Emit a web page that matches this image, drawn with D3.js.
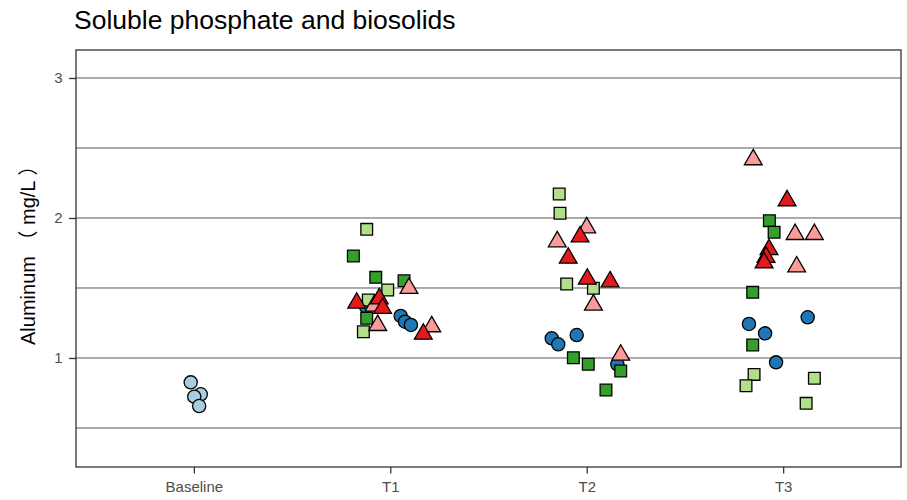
<!DOCTYPE html>
<html>
<head>
<meta charset="utf-8">
<script src="https://cdn.jsdelivr.net/npm/d3@7"></script>
<style>
  html, body { margin: 0; padding: 0; background: #ffffff; }
  svg { display: block; font-family: "Liberation Sans", Arial, "Noto Sans CJK SC", sans-serif; }
</style>
</head>
<body>
<svg id="chart" width="907" height="500"></svg>
<script>
// Sampling periods on the x axis
const categories = ["Baseline", "T1", "T2", "T3"];

// Baseline soil samples (mg/L) and their horizontal jitter (fraction of a category step)
const baselineValues = [0.826, 0.741, 0.724, 0.657];
const baselineJitter = [-0.016, 0.035, 0.002, 0.027];

// Treatment samples: four replicates at each of T1, T2, T3
const treatmentPeriods = ["T1", "T1", "T1", "T1", "T2", "T2", "T2", "T2", "T3", "T3", "T3", "T3"];

const blueCircleValues = [1.367, 1.300, 1.259, 1.236, 1.141, 1.098, 1.164, 0.955, 1.243, 1.176, 0.969, 1.291];
const blueCircleJitter = [-0.124, 0.053, 0.075, 0.105, -0.178, -0.145, -0.051, 0.156, -0.174, -0.092, -0.036, 0.125];

const lightSquareValues = [1.919, 1.486, 1.414, 1.188, 2.171, 2.034, 1.529, 1.498, 0.883, 0.802, 0.855, 0.676];
const lightSquareJitter = [-0.120, -0.013, -0.112, -0.137, -0.140, -0.136, -0.102, 0.034, -0.148, -0.189, 0.159, 0.117];

const darkSquareValues = [1.729, 1.576, 1.552, 1.284, 1.002, 0.955, 0.907, 0.771, 1.981, 1.898, 1.469, 1.093];
const darkSquareJitter = [-0.188, -0.074, 0.070, -0.120, -0.068, 0.008, 0.173, 0.098, -0.070, -0.046, -0.155, -0.155];

const pinkTriangleValues = [1.498, 1.233, 1.224, 1.371, 1.931, 1.831, 1.379, 1.021, 2.417, 1.883, 1.883, 1.652];
const pinkTriangleJitter = [0.095, -0.064, 0.211, -0.083, 0.000, -0.150, 0.034, 0.173, -0.152, 0.061, 0.159, 0.069];

const redTriangleValues = [1.393, 1.424, 1.355, 1.171, 1.866, 1.714, 1.564, 1.545, 2.124, 1.775, 1.720, 1.680];
const redTriangleJitter = [-0.171, -0.056, -0.039, 0.168, -0.034, -0.094, 0.003, 0.119, 0.020, -0.072, -0.087, -0.097];

// Axis ticks and grid
const yTicks = [1, 2, 3];
const yMinorTicks = [0.5, 1.5, 2.5];
const yDomain = [0.2214, 3.2];

const titleText = "Soluble phosphate and biosolids";
const yTitleText = "Aluminum （ mg/L ）";

// Series definitions, in drawing order
const series = [
  { periods: ["Baseline", "Baseline", "Baseline", "Baseline"], values: baselineValues, jitter: baselineJitter, shape: d3.symbolCircle, fill: "#a6cee3" },
  { periods: treatmentPeriods, values: blueCircleValues, jitter: blueCircleJitter, shape: d3.symbolCircle, fill: "#1f78b4" },
  { periods: treatmentPeriods, values: lightSquareValues, jitter: lightSquareJitter, shape: d3.symbolSquare, fill: "#b2df8a" },
  { periods: treatmentPeriods, values: darkSquareValues, jitter: darkSquareJitter, shape: d3.symbolSquare, fill: "#33a02c" },
  { periods: treatmentPeriods, values: pinkTriangleValues, jitter: pinkTriangleJitter, shape: d3.symbolTriangle, fill: "#fb9a99" },
  { periods: treatmentPeriods, values: redTriangleValues, jitter: redTriangleJitter, shape: d3.symbolTriangle, fill: "#e31a1c" }
];

const svg = d3.select("#chart");
const panel = { left: 76, right: 901, top: 50, bottom: 467 };

svg.append("rect").attr("width", 907).attr("height", 500).attr("fill", "#ffffff");

const x = d3.scalePoint()
  .domain(categories)
  .range([panel.left, panel.right])
  .padding(0.6);

const y = d3.scaleLinear()
  .domain(yDomain)
  .range([panel.bottom, panel.top]);

// Horizontal grid lines (major and minor)
svg.append("g")
  .selectAll("line")
  .data(yMinorTicks.concat(yTicks))
  .join("line")
  .attr("x1", panel.left)
  .attr("x2", panel.right)
  .attr("y1", d => y(d))
  .attr("y2", d => y(d))
  .attr("stroke", "#222")
  .attr("stroke-width", 0.75);

// Points
const pointRadius = 6.6;
const symbolArea = Math.PI * pointRadius * pointRadius;

const pointLayer = svg.append("g");
series.forEach(s => {
  const rows = s.values.map((v, i) => ({ period: s.periods[i], value: v, jitter: s.jitter[i] }));
  pointLayer.append("g")
    .selectAll("path")
    .data(rows)
    .join("path")
    .attr("d", d3.symbol().type(s.shape).size(symbolArea))
    .attr("transform", d => `translate(${x(d.period) + d.jitter * x.step()},${y(d.value)})`)
    .attr("fill", s.fill)
    .attr("stroke", "#000")
    .attr("stroke-width", 1.3);
});

// Panel border
svg.append("rect")
  .attr("x", panel.left)
  .attr("y", panel.top)
  .attr("width", panel.right - panel.left)
  .attr("height", panel.bottom - panel.top)
  .attr("fill", "none")
  .attr("stroke", "#333")
  .attr("stroke-width", 1.3);

// Axes
const yAxis = svg.append("g")
  .attr("transform", `translate(${panel.left},0)`)
  .call(d3.axisLeft(y).tickValues(yTicks).tickFormat(d3.format("d")).tickSize(7).tickPadding(6.5));

const xAxis = svg.append("g")
  .attr("transform", `translate(0,${panel.bottom})`)
  .call(d3.axisBottom(x).tickSize(6.5).tickPadding(7.5));

[yAxis, xAxis].forEach(ax => {
  ax.select(".domain").remove();
  ax.selectAll(".tick line").attr("stroke", "#333").attr("stroke-width", 1.3);
  ax.selectAll(".tick text")
    .attr("fill", "#4d4d4d")
    .style("font-size", "15px")
    .style("font-family", "'Liberation Sans', Arial, sans-serif");
});

// Title
svg.append("text")
  .attr("x", 74)
  .attr("y", 28.5)
  .attr("fill", "#000")
  .style("font-size", "26.5px")
  .text(titleText);

// Y axis title
svg.append("text")
  .attr("transform", "translate(34.5,345) rotate(-90)")
  .attr("text-anchor", "start")
  .attr("fill", "#000")
  .style("font-size", "20px")
  .text(yTitleText);
</script>
</body>
</html>
